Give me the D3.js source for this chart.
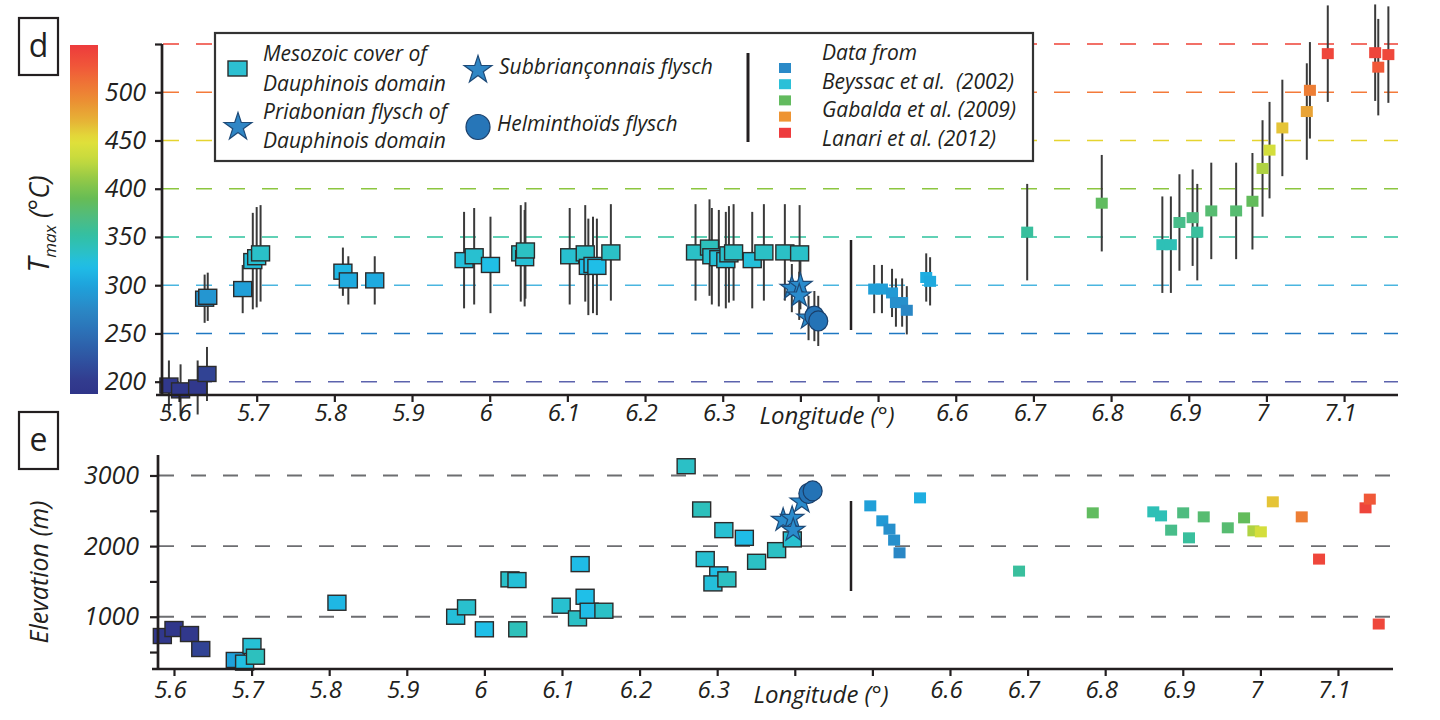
<!DOCTYPE html>
<html><head><meta charset="utf-8">
<script src="https://cdn.jsdelivr.net/npm/d3@7"></script>
<style>
body{margin:0;background:#fff}
svg{display:block}
text{font-family:"Open Sans",sans-serif;font-style:italic;fill:#231f20;white-space:pre}
text.upright{font-style:normal}
</style>
</head><body>
<svg id="c" width="1440" height="720"></svg>
<script>
// ---------- tick values / labels ----------
const lonTicks = [5.6,5.7,5.8,5.9,6.0,6.1,6.2,6.3,6.4,6.5,6.6,6.7,6.8,6.9,7.0,7.1];
const lonTickLabels = ["5.6","5.7","5.8","5.9","6","6.1","6.2","6.3","","","6.6","6.7","6.8","6.9","7","7.1"];
const tempTicks = [200,250,300,350,400,450,500,550];
const tempTickLabels = ["200","250","300","350","400","450","500",""];
const elevTicks = [500,1000,1500,2000,2500,3000];
const elevTickLabels = ["","1000","","2000","","3000"];
const elevGrid = [1000,2000,3000];

// ---------- panel d : Tmax ----------
// Mesozoic cover of Dauphinois domain
const mesoLon = [5.587,5.602,5.624,5.636,5.633,5.637,5.682,5.695,5.700,5.705,5.811,5.818,5.852,5.967,5.980,6.001,6.040,6.045,6.046,6.103,6.123,6.127,6.133,6.138,6.156,6.265,6.283,6.286,6.295,6.304,6.308,6.314,6.338,6.353,6.380,6.399];
const mesoT   = [196,191,194,208,286,288,296,325,329,333,314,305,305,326,330,321,333,328,336,330,333,319,321,319,334,334,339,330,328,326,332,334,326,334,334,333];
const mesoErr = [26,27,28,28,25,25,25,50,52,50,25,25,25,50,50,50,50,50,50,50,50,50,50,50,50,50,50,50,50,50,50,50,50,50,50,50];
// Priabonian / Subbriançonnais flysch (stars)
const starLon = [6.389,6.400,6.3985,6.4105];
const starT   = [297,300,289,266];
const starErr = [25,25,25,23];
// Helminthoïds flysch (circles)
const circLon = [6.418,6.423];
const circT   = [268,263];
const circErr = [26,26];
// literature data (Beyssac 2002, Gabalda 2009, Lanari 2012)
const litLon = [6.495,6.505,6.518,6.523,6.531,6.537,6.562,6.567,6.692,6.788,6.866,6.877,6.888,6.905,6.911,6.929,6.961,6.982,6.995,7.004,7.0205,7.052,7.056,7.079,7.140,7.144,7.157];
const litT   = [296,296,292,282,282,274,308,304,355,385,342,342,365,370,355,377,377,387,421,440,463,480,502,540,541,526,539];
const litErr = [25,25,25,25,25,25,25,25,50,50,50,50,50,50,50,50,50,50,50,50,50,50,50,50,50,50,50];

// ---------- panel e : elevation ----------
const mesoLonE  = [5.585,5.600,5.620,5.6345,5.679,5.691,5.7005,5.705,5.810,5.963,5.977,6.000,6.033,6.042,6.043,6.099,6.1234,6.120,6.1298,6.135,6.154,6.260,6.280,6.3086,6.335,6.2846,6.302,6.2945,6.3125,6.3508,6.3766,6.3968];
const mesoElev  = [727,826,755,543,388,350,586,434,1198,1000,1133,822,1529,1519,822,1156,1745,977,1283,1085,1085,3131,2519,2226,2117,1816,1600,1472,1529,1778,1943,2095];
const mesoElevT = [196,191,194,208,298,322,328,338,314,326,331,320,333,327,340,330,318,334,320,318,334,334,339,329,318,329,321,326,336,335,335,330];
const starLonE = [6.385,6.3966,6.398,6.409];
const starElev = [2368,2396,2226,2627];
const circLonE = [6.4175,6.423];
const circElev = [2745,2782];
const litLonE  = [6.4973,6.5128,6.522,6.528,6.535,6.5614,6.689,6.784,6.862,6.872,6.885,6.9005,6.908,6.927,6.958,6.979,6.991,7.0006,7.016,7.0533,7.0756,7.1355,7.141,7.1525];
const litElev  = [2570,2358,2240,2085,1905,2683,1646,2471,2485,2428,2226,2471,2117,2414,2259,2400,2216,2202,2627,2414,1816,2542,2665,897];
const litElevT = [296,292,282,282,274,308,355,385,342,342,365,370,355,377,377,387,421,440,463,502,540,541,526,539];

// legend
const legendRefs = ["Data from","Beyssac et al.  (2002)","Gabalda et al. (2009)","Lanari et al. (2012)"];
const legendRefColors = ["#2a8ac8","#2bc0d8","#63bb5f","#ee9433","#ee3b3e"];

// ---------- styles ----------
const colStops = [187,200,225,250,275,300,320,335,350,370,390,410,430,450,470,490,510,530,550];
const colHex = ["#2f3589","#323a8e","#2f55a2","#2c6fb5","#2a88c6","#1ea3dc","#1fbfe8","#2cc0c4","#31c0a6","#4fbc80","#67bc55","#93c947","#c5da3e","#e2e13a","#e6b436","#eb9133","#ef7236","#f05239","#ed3a3d"];
const gridColors = ["#5c63ad","#1f78c2","#4ab6e0","#2ec29d","#8cc63f","#e5d42f","#f47a3a","#ee4136"];
const color = d3.scaleLinear().domain(colStops).range(colHex).clamp(true);
const INK = "#231f20";
const FONT = '"Open Sans", sans-serif';

const svg = d3.select("#c");

const xT = d3.scaleLinear().domain([5.5781, 7.1694]).range([162, 1398]);
const yT = d3.scaleLinear().domain([186.2, 550]).range([395, 44]);
const xB = d3.scaleLinear().domain([5.5794, 7.1709]).range([158, 1393]);
const yB = d3.scaleLinear().domain([260, 3290]).range([669, 455]);

// ---------- panel d ----------
const gd = svg.append("g");
gd.selectAll("line.grid").data(tempTicks).join("line")
  .attr("x1",163).attr("x2",1398)
  .attr("y1",d=>yT(d)).attr("y2",d=>yT(d))
  .attr("stroke",(d,i)=>gridColors[i]).attr("stroke-width",1.6)
  .attr("stroke-dasharray","16,17");

function errBars(g, lons, vals, errs, x, y){
  g.append("g").selectAll("line").data(lons).join("line")
    .attr("x1",d=>x(d)).attr("x2",d=>x(d))
    .attr("y1",(d,i)=>y(vals[i]+errs[i])).attr("y2",(d,i)=>y(vals[i]-errs[i]))
    .attr("stroke","#3a3a3a").attr("stroke-width",2);
}
errBars(gd, mesoLon, mesoT, mesoErr, xT, yT);
errBars(gd, litLon, litT, litErr, xT, yT);
errBars(gd, starLon, starT, starErr, xT, yT);
errBars(gd, circLon, circT, circErr, xT, yT);

function bigSquares(g, lons, vals, cols, x, y){
  g.append("g").selectAll("rect").data(lons).join("rect")
    .attr("x",d=>x(d)-9).attr("y",(d,i)=>y(vals[i])-7.5)
    .attr("width",18).attr("height",15)
    .attr("fill",(d,i)=>color(cols[i]))
    .attr("stroke","#2b2b2b").attr("stroke-width",1.4);
}
function smallSquares(g, lons, vals, cols, x, y){
  g.append("g").selectAll("rect").data(lons).join("rect")
    .attr("x",d=>x(d)-6).attr("y",(d,i)=>y(vals[i])-5.5)
    .attr("width",12).attr("height",11)
    .attr("fill",(d,i)=>color(cols[i]));
}
const starPath = d3.symbol(d3.symbolStar).size(170)();
const starPathLg = d3.symbol(d3.symbolStar).size(240)();
function stars(g, lons, vals, x, y){
  g.append("g").selectAll("path").data(lons).join("path")
    .attr("d",starPath)
    .attr("transform",(d,i)=>`translate(${x(d)},${y(vals[i])})`)
    .attr("fill","#2a8bcc").attr("stroke","#1d4a78").attr("stroke-width",1.2);
}
function circles(g, lons, vals, x, y){
  g.append("g").selectAll("ellipse").data(lons).join("ellipse")
    .attr("cx",d=>x(d)).attr("cy",(d,i)=>y(vals[i]))
    .attr("rx",9.5).attr("ry",10)
    .attr("fill","#2473b6").attr("stroke","#1a3f6a").attr("stroke-width",1.2);
}

bigSquares(gd, mesoLon, mesoT, mesoT, xT, yT);
smallSquares(gd, litLon, litT, litT, xT, yT);
stars(gd, starLon, starT, xT, yT);
circles(gd, circLon, circT, xT, yT);

gd.append("line").attr("x1",851).attr("x2",851).attr("y1",240).attr("y2",330)
  .attr("stroke",INK).attr("stroke-width",2.5);

function styleAxis(g, fs){
  g.select(".domain").remove();
  g.selectAll(".tick line").attr("stroke",INK).attr("stroke-width",2.2);
  g.selectAll(".tick text").attr("font-size",fs).attr("font-family",FONT).attr("fill",INK);
}
const axXd = gd.append("g").attr("transform","translate(0,395)")
  .call(d3.axisBottom(xT).tickValues(lonTicks).tickSize(7).tickPadding(2)
    .tickFormat((d,i)=>lonTickLabels[i]));
styleAxis(axXd, 24); axXd.selectAll(".tick text").attr("dx",-4);
gd.append("line").attr("x1",156).attr("x2",1398).attr("y1",395).attr("y2",395)
  .attr("stroke",INK).attr("stroke-width",2.7);
const axYd = gd.append("g").attr("transform","translate(162,0)")
  .call(d3.axisLeft(yT).tickValues(tempTicks).tickSize(7).tickPadding(9)
    .tickFormat((d,i)=>tempTickLabels[i]));
styleAxis(axYd, 25);
gd.append("line").attr("x1",162).attr("x2",162).attr("y1",44).attr("y2",396)
  .attr("stroke",INK).attr("stroke-width",2.7);
gd.append("text").attr("x",827).attr("y",424).attr("text-anchor","middle")
  .attr("font-size",24).text("Longitude (°)");

// colour bar
const defs = svg.append("defs");
const grad = defs.append("linearGradient").attr("id","cb").attr("x1",0).attr("x2",0).attr("y1",1).attr("y2",0);
const cbLo = yT.invert(394), cbHi = yT.invert(45);
d3.range(0,1.0001,0.02).forEach(t=>{
  grad.append("stop").attr("offset",t).attr("stop-color",color(cbLo + t*(cbHi-cbLo)));
});
svg.append("rect").attr("x",70).attr("y",45).attr("width",28).attr("height",349).attr("fill","url(#cb)");

const tt = svg.append("text").attr("transform","translate(49,224) rotate(-90)").attr("text-anchor","middle");
tt.append("tspan").attr("font-size",30).text("T");
tt.append("tspan").attr("font-size",17).attr("dy",7).text("max");
tt.append("tspan").attr("font-size",27).attr("dy",-7).text(" (°C)");

function panelLabel(y0, txt){
  svg.append("rect").attr("x",19).attr("y",y0).attr("width",39).attr("height",57)
    .attr("fill","#fff").attr("stroke",INK).attr("stroke-width",2.2);
  svg.append("text").attr("class","upright").attr("x",38.5).attr("y",y0+39).attr("text-anchor","middle")
    .attr("font-size",32).text(txt);
}
panelLabel(18,"d");
panelLabel(412,"e");

// legend
const lg = svg.append("g");
lg.append("rect").attr("x",215).attr("y",33).attr("width",818).attr("height",128)
  .attr("fill","#fff").attr("stroke","#333").attr("stroke-width",2.2);
lg.append("rect").attr("x",228).attr("y",61).attr("width",19).attr("height",15)
  .attr("fill","#2cc0d2").attr("stroke","#2b2b2b").attr("stroke-width",1.4);
lg.append("path").attr("d",starPathLg).attr("transform","translate(238,127)")
  .attr("fill","#2f86c5").attr("stroke","#1d4a78").attr("stroke-width",1.2);
lg.append("path").attr("d",starPathLg).attr("transform","translate(478,70)")
  .attr("fill","#2f86c5").attr("stroke","#1d4a78").attr("stroke-width",1.2);
lg.append("ellipse").attr("cx",478).attr("cy",127).attr("rx",12).attr("ry",12.5)
  .attr("fill","#2776b8").attr("stroke","#1a3f6a").attr("stroke-width",1.2);
const lt = [["Mesozoic cover of",263,61],["Dauphinois domain",263,91],["Priabonian flysch of",263,119],["Dauphinois domain",263,148],
            ["Subbriançonnais flysch",499,74],["Helminthoïds flysch",497,131]];
lt.forEach(([s,x,y])=>lg.append("text").attr("x",x).attr("y",y).attr("font-size",21).text(s));
lg.append("line").attr("x1",748).attr("x2",748).attr("y1",53).attr("y2",142)
  .attr("stroke",INK).attr("stroke-width",3);
legendRefColors.forEach((c,i)=>{
  lg.append("rect").attr("x",779).attr("y",63+i*16.2).attr("width",12).attr("height",10).attr("fill",c);
});
legendRefs.forEach((s,i)=>{
  lg.append("text").attr("x",822).attr("y",60+i*28.5).attr("font-size",21).text(s);
});

// ---------- panel e ----------
const ge = svg.append("g");
ge.selectAll("line.grid").data(elevGrid).join("line")
  .attr("x1",159).attr("x2",1393)
  .attr("y1",d=>yB(d)).attr("y2",d=>yB(d))
  .attr("stroke","#6d6e71").attr("stroke-width",1.8)
  .attr("stroke-dasharray","15,17");
bigSquares(ge, mesoLonE, mesoElev, mesoElevT, xB, yB);
smallSquares(ge, litLonE, litElev, litElevT, xB, yB);
stars(ge, starLonE, starElev, xB, yB);
circles(ge, circLonE, circElev, xB, yB);
ge.append("line").attr("x1",851).attr("x2",851).attr("y1",501).attr("y2",591)
  .attr("stroke",INK).attr("stroke-width",2.5);

const axXe = ge.append("g").attr("transform","translate(0,669)")
  .call(d3.axisBottom(xB).tickValues(lonTicks).tickSize(7).tickPadding(5)
    .tickFormat((d,i)=>lonTickLabels[i]));
styleAxis(axXe, 24); axXe.selectAll(".tick text").attr("dx",-4);
ge.append("line").attr("x1",152).attr("x2",1393).attr("y1",669).attr("y2",669)
  .attr("stroke",INK).attr("stroke-width",2.7);
const axYe = ge.append("g").attr("transform","translate(158,0)")
  .call(d3.axisLeft(yB).tickValues(elevTicks).tickSize(8).tickPadding(11)
    .tickFormat((d,i)=>elevTickLabels[i]));
styleAxis(axYe, 25);
ge.append("line").attr("x1",158).attr("x2",158).attr("y1",455).attr("y2",670)
  .attr("stroke",INK).attr("stroke-width",2.7);
ge.append("text").attr("x",821).attr("y",703).attr("text-anchor","middle")
  .attr("font-size",24).text("Longitude (°)");
svg.append("text").attr("transform","translate(48,572) rotate(-90)").attr("text-anchor","middle")
  .attr("font-size",25).text("Elevation (m)");
</script>
</body></html>
